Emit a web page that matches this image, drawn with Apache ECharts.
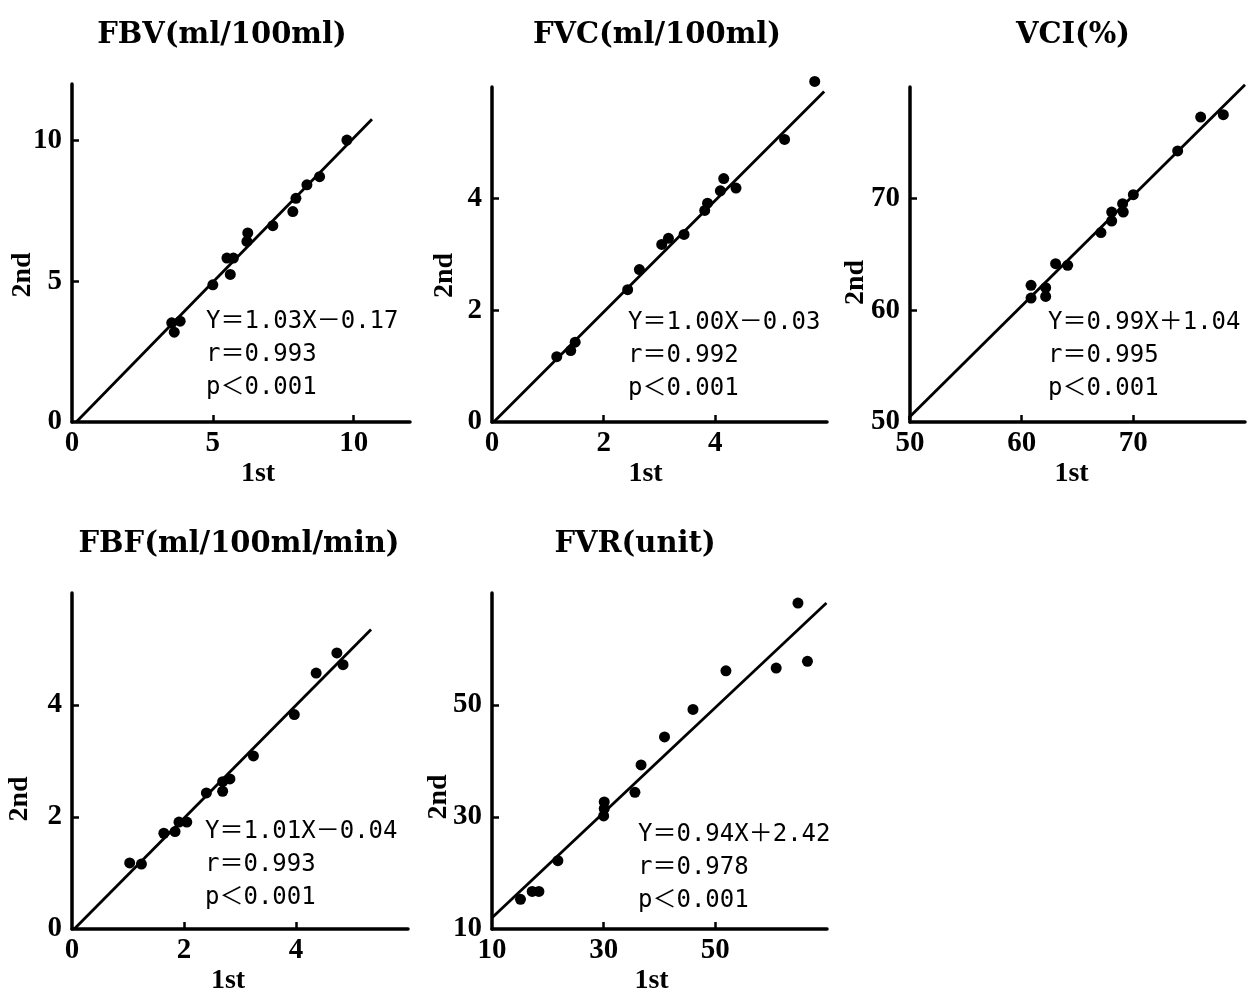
<!DOCTYPE html>
<html>
<head>
<meta charset="utf-8">
<script src="https://cdn.jsdelivr.net/npm/echarts@6/dist/echarts.min.js"></script>
<style>
html,body{margin:0;padding:0;background:#fff;}
#chart{width:1250px;height:990px;}
</style>
</head>
<body>
<div id="chart"></div>
<script>
// ---- data ----
const titles = ['FBV(ml/100ml)', 'FVC(ml/100ml)', 'VCI(%)', 'FBF(ml/100ml/min)', 'FVR(unit)'];
const equations = ['Y＝1.03X－0.17', 'Y＝1.00X－0.03', 'Y＝0.99X＋1.04', 'Y＝1.01X－0.04', 'Y＝0.94X＋2.42'];
const rValues = ['r＝0.993', 'r＝0.992', 'r＝0.995', 'r＝0.993', 'r＝0.978'];
const pValues = ['p＜0.001', 'p＜0.001', 'p＜0.001', 'p＜0.001', 'p＜0.001'];

const fbvFirst  = [9.76, 8.79, 8.34, 7.95, 7.84, 7.13, 6.24, 6.21, 5.73, 5.50, 5.62, 5.00, 3.84, 3.54, 3.63];
const fbvSecond = [10.01, 8.71, 8.42, 7.94, 7.47, 6.97, 6.71, 6.41, 5.82, 5.82, 5.24, 4.87, 3.58, 3.52, 3.19];
const fvcFirst  = [5.78, 5.24, 4.15, 4.37, 4.09, 3.86, 3.81, 3.44, 3.16, 3.04, 2.64, 2.43, 1.49, 1.41, 1.16];
const fvcSecond = [6.10, 5.06, 4.36, 4.19, 4.14, 3.92, 3.79, 3.36, 3.29, 3.18, 2.73, 2.37, 1.43, 1.28, 1.17];
const vciFirst  = [78.06, 76.03, 73.97, 70.0, 69.04, 69.1, 68.06, 68.06, 67.1, 64.12, 63.04, 62.15, 62.15, 60.84, 60.84];
const vciSecond = [77.52, 77.31, 74.27, 70.36, 69.55, 68.8, 68.8, 68.0, 66.96, 64.03, 64.18, 62.03, 61.25, 62.24, 61.1];
const fbfFirst  = [4.73, 4.84, 4.36, 3.97, 3.24, 2.82, 2.69, 2.69, 2.40, 2.05, 1.91, 1.84, 1.64, 1.24, 1.03];
const fbfSecond = [4.93, 4.72, 4.57, 3.83, 3.09, 2.68, 2.63, 2.46, 2.43, 1.91, 1.91, 1.74, 1.71, 1.16, 1.18];
const fvrFirst  = [64.8, 66.5, 60.9, 51.9, 46.0, 40.9, 36.7, 35.6, 30.1, 30.1, 30.0, 21.8, 18.4, 17.2, 15.1];
const fvrSecond = [68.2, 57.8, 56.6, 56.1, 49.2, 44.3, 39.3, 34.4, 32.7, 31.5, 30.2, 22.2, 16.7, 16.7, 15.3];

// regression line endpoints [x, y]
const fbvLine = [[0.15, 0], [10.65, 10.75]];
const fvcLine = [[0.03, 0], [5.95, 5.92]];
const vciLine = [[49.5, 50], [80.0, 80.2]];
const fbfLine = [[0.04, 0], [5.34, 5.35]];
const fvrLine = [[10.0, 12.0], [69.9, 68.2]];

// axis ranges and tick labels
const axisMin = [0, 0, 50, 0, 10];
const axisMax = [12, 6, 80, 6, 70];
const tickLabels = [[0, 5, 10], [0, 2, 4], [50, 60, 70], [0, 2, 4], [10, 30, 50]];
const tickMarks  = [[5, 10], [2, 4], [60, 70], [2, 4], [30, 50]];

// ---- layout (pixels) ----
const grids = [
  {left: 72,  top: 84,  width: 338, height: 338},
  {left: 492, top: 87,  width: 335, height: 335},
  {left: 910, top: 87,  width: 335, height: 335},
  {left: 72,  top: 593, width: 336, height: 336},
  {left: 492, top: 593, width: 335, height: 336}
];
const titlePos = [[222, 35], [657, 35], [1073, 35], [239, 544], [635, 544]];
const notePos = [[206, 322], [628, 323], [1048, 323], [205, 832], [638, 835]];
const xNameShift = [17, -14, -6, -12, -8];
const yNameShift = [22, 21, 28, 38, 36];
const yNameGap = [35, 33, 40, 38, 39];

const firsts = [fbvFirst, fvcFirst, vciFirst, fbfFirst, fvrFirst];
const seconds = [fbvSecond, fvcSecond, vciSecond, fbfSecond, fvrSecond];
const lines = [fbvLine, fvcLine, vciLine, fbfLine, fvrLine];

const serif = "'Liberation Serif', 'DejaVu Serif', serif";
const titleFont = "'DejaVu Serif', serif";
const noteFont = "'DejaVu Sans Mono', 'Noto Sans CJK JP', monospace";

const option = {
  backgroundColor: '#fff',
  animation: false,
  title: [],
  grid: [],
  xAxis: [],
  yAxis: [],
  series: []
};

for (let i = 0; i < 5; i++) {
  option.grid.push(Object.assign({containLabel: false, outerBoundsMode: 'none'}, grids[i]));
  const axisCommon = {
    gridIndex: i,
    type: 'value',
    min: axisMin[i],
    max: axisMax[i],
    splitLine: {show: false},
    nameMoveOverlap: false,
    axisLine: {show: true, onZero: false, lineStyle: {color: '#000', width: 3.5}},
    axisTick: {show: true, inside: true, length: 7, customValues: tickMarks[i], lineStyle: {color: '#000', width: 2.5}},
    axisLabel: {show: true, customValues: tickLabels[i], color: '#000', fontFamily: serif, fontWeight: 'bold', fontSize: 29}
  };
  option.xAxis.push(Object.assign({}, axisCommon, {
    name: '1st',
    nameLocation: 'middle',
    nameGap: 38,
    nameTextStyle: {
      color: '#000', fontFamily: serif, fontWeight: 'bold', fontSize: 28,
      padding: xNameShift[i] >= 0 ? [0, 0, 0, 2 * xNameShift[i]] : [0, -2 * xNameShift[i], 0, 0]
    },
    axisLabel: Object.assign({}, axisCommon.axisLabel, {margin: 7})
  }));
  option.yAxis.push(Object.assign({}, axisCommon, {
    name: '2nd',
    nameLocation: 'middle',
    nameRotate: 90,
    nameGap: yNameGap[i],
    nameTextStyle: {
      color: '#000', fontFamily: serif, fontWeight: 'bold', fontSize: 28,
      padding: [0, 2 * yNameShift[i], 0, 0]
    },
    axisLabel: Object.assign({}, axisCommon.axisLabel, {margin: 10})
  }));
  option.series.push({
    type: 'scatter',
    xAxisIndex: i, yAxisIndex: i,
    clip: false,
    symbol: 'circle',
    symbolSize: 11,
    itemStyle: {color: '#000', opacity: 1},
    data: firsts[i].map((x, k) => [x, seconds[i][k]])
  });
  option.series.push({
    type: 'line',
    xAxisIndex: i, yAxisIndex: i,
    clip: false,
    symbol: 'none',
    lineStyle: {color: '#000', width: 2.8},
    data: lines[i]
  });
  option.title.push({
    text: titles[i],
    left: titlePos[i][0],
    top: titlePos[i][1] - 16,
    textAlign: 'center',
    padding: 0,
    textStyle: {color: '#000', fontFamily: titleFont, fontWeight: 'bold', fontSize: 29, lineHeight: 32}
  });
  option.title.push({
    text: equations[i] + '\n' + rValues[i] + '\n' + pValues[i],
    left: notePos[i][0],
    top: notePos[i][1] - 16.5,
    padding: 0,
    textStyle: {color: '#000', fontFamily: noteFont, fontWeight: 'normal', fontSize: 24, lineHeight: 33}
  });
}

const chart = echarts.init(document.getElementById('chart'), null, {renderer: 'canvas'});
chart.setOption(option);
</script>
</body>
</html>
